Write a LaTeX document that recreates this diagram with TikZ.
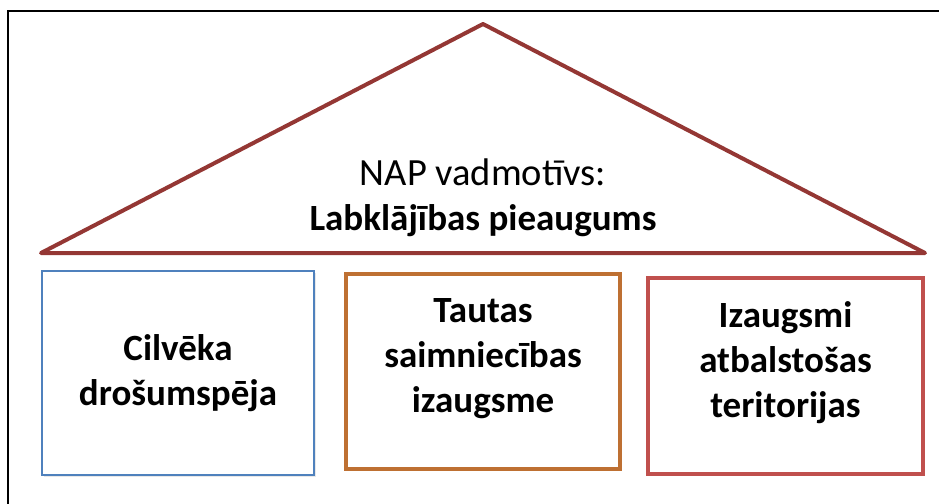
\documentclass[tikz,border=0pt]{standalone}
\usepackage{fontspec}
\setmainfont{Carlito}
\usetikzlibrary{shadows}
\definecolor{roofred}{RGB}{148,55,52}
\definecolor{pillarblue}{RGB}{79,129,189}
\definecolor{pillarorange}{RGB}{190,112,50}
\definecolor{pillarred}{RGB}{192,80,77}

\begin{document}
\begin{tikzpicture}[x=1pt,y=-1pt,
    pillar/.style={draw=#1,fill=white,rectangle,inner sep=0pt,
      drop shadow={opacity=0.18,shadow xshift=2pt,shadow yshift=-2pt}},
    pillartext/.style={anchor=base,align=center,
      font=\fontsize{37}{45}\selectfont\bfseries},
    mottotext/.style={anchor=base,font=\fontsize{38.5}{45}\selectfont}]
  \useasboundingbox (0,0) rectangle (939,503);

% outer frame, runs off the right and bottom edges
  \draw[black,line width=2pt] (7.5,520) |- (960,11.5);

% roof
  \coordinate (roofleft) at (41,253);
  \coordinate (roofapex) at (483,24);
  \coordinate (roofright) at (925,253);
  \draw[roofred,line width=4pt,line join=round]
    (roofleft) -- (roofapex) -- (roofright) -- cycle;
  \node[mottotext] (mottohead) at (483,185) {NAP vadmotīvs:};
  \node[mottotext,font=\fontsize{37}{45}\selectfont\bfseries] (motto)
    at (483,230) {Labklājības pieaugums};

% three pillars
  \node[pillar=pillarblue,line width=1.3pt,minimum width=272pt,minimum height=204pt]
    (safety) at (178,373) {};
  \node[pillar=pillarorange,line width=3.3pt,minimum width=274pt,minimum height=195pt]
    (economy) at (483,371.5) {};
  \node[pillar=pillarred,line width=4pt,minimum width=275pt,minimum height=196pt]
    (regions) at (785.5,376) {};

% labels sit on the baseline of their last line
  \node[pillartext] (safetytext) at (178,405) {Cilvēka\\drošumspēja};
  \node[pillartext] (economytext) at (483,412) {Tautas\\saimniecības\\izaugsme};
  \node[pillartext] (regionstext) at (785.5,417) {Izaugsmi\\atbalstošas\\teritorijas};
\end{tikzpicture}
\end{document}
